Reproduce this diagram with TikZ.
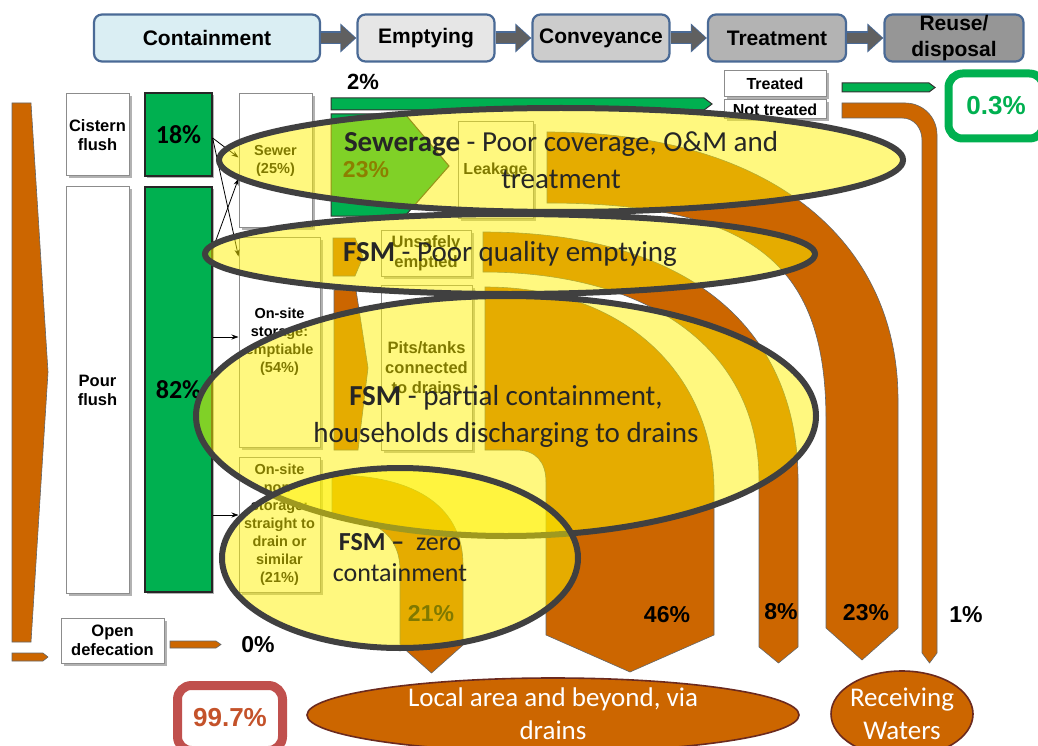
\documentclass[tikz,border=0pt]{standalone}
\usepackage{fontspec}
\setmainfont{Liberation Sans}
\newfontfamily\calfont{Carlito}
\usetikzlibrary{shapes.geometric,shadows,arrows.meta}
\definecolor{sfdorange}{HTML}{CC6600}
\definecolor{sfdgreen}{HTML}{00B050}
\definecolor{ellline}{HTML}{404040}
\definecolor{hdrline}{HTML}{4A6A96}
\definecolor{hdrarr}{HTML}{606060}
\definecolor{contfill}{HTML}{DAEEF3}
\definecolor{emptfill}{HTML}{E6E6E6}
\definecolor{convfill}{HTML}{CCCCCC}
\definecolor{treatfill}{HTML}{B3B3B3}
\definecolor{reusefill}{HTML}{969696}
\definecolor{redbox}{HTML}{C0504D}
\definecolor{redtext}{HTML}{C4522A}
\definecolor{brownline}{HTML}{6B2A1F}
\definecolor{elltext}{HTML}{262626}
\tikzset{
  hdr/.style={draw=hdrline, line width=2.2pt, rounded corners=8pt, minimum height=47pt, inner sep=0pt, align=center, font=\bfseries\fontsize{21}{26}\selectfont},
  hdrarrowbg/.style={draw=hdrline, line width=13pt, -{Triangle[length=16pt,width=28pt]}},
  hdrarrow/.style={draw=hdrarr, line width=10pt, -{Triangle[length=14pt,width=24pt]}, shorten >=1.2pt},
  wbox/.style={draw=black!45, line width=1pt, fill=white, inner sep=0pt, align=center, drop shadow={shadow xshift=2.5pt,shadow yshift=-2.5pt,opacity=0.3,fill=black}},
  gbox/.style={draw=black!85, line width=1.2pt, fill=sfdgreen, inner sep=0pt, align=center, font=\calfont\bfseries\fontsize{26}{26}\selectfont, drop shadow={shadow xshift=2pt,shadow yshift=-2pt,opacity=0.3,fill=black}},
  band/.style={fill=sfdorange, draw=black!60, line width=0.6pt},
  gflow/.style={fill=sfdgreen, draw=black!80, line width=1pt},
  yell/.style={ellipse, fill=yellow, fill opacity=0.5, text opacity=1, draw=ellline, line width=6pt, inner sep=0pt, align=center, text=elltext, font=\calfont\fontsize{29}{37}\selectfont},
  conn/.style={-{Stealth[length=7pt,width=5pt]}, line width=0.8pt, draw=black},
  pct/.style={font=\bfseries\fontsize{23}{23}\selectfont, inner sep=0pt},
  outell/.style={ellipse, fill=sfdorange, draw=brownline, line width=1.6pt, inner sep=0pt},
  outtext/.style={text=white, font=\calfont\fontsize{27}{33}\selectfont, align=center, inner sep=0pt},
  f16/.style={font=\bfseries\fontsize{16.5}{19}\selectfont},
  f14/.style={font=\bfseries\fontsize{14.5}{18}\selectfont},
  f165/.style={font=\bfseries\fontsize{16.5}{20}\selectfont}
}
\begin{document}
\begin{tikzpicture}[x=1pt,y=-1pt]
\useasboundingbox (0,0) rectangle (1038,746);
\clip (0,0) rectangle (1038,746);
\fill[white] (0,0) rectangle (1038,746);

% header
\node[hdr, fill=contfill, minimum width=226pt] (cont) at (207,38) {Containment};
\node[hdr, fill=emptfill, minimum width=137pt] (empt) at (426,38) {Emptying};
\node[hdr, fill=convfill, minimum width=137pt] (conv) at (601,38) {Conveyance};
\node[hdr, fill=treatfill, minimum width=138pt] (treat) at (777,38) {Treatment};
\node[hdr, fill=reusefill, minimum width=139pt] (reuse) at (954,38) {Reuse/\\disposal};
\foreach \a/\b in {cont/empt, empt/conv, conv/treat, treat/reuse}{
  \draw[hdrarrowbg] (\a.east) -- (\b.west);
  \draw[hdrarrow] (\a.east) -- (\b.west);
}

% left orange
\draw[band] (12,103) -- (31,103) -- (48,372) -- (31,642) -- (12,642) -- cycle;
\draw[band] (12,653) -- (43,653) -- (48,657) -- (43,661) -- (12,661) -- cycle;

% column boxes
\node[wbox, f16, minimum width=63pt, minimum height=82pt] (cist) at (97.5,135) {Cistern\\flush};
\node[wbox, f16, minimum width=63pt, minimum height=406pt] (pour) at (97.5,390) {Pour\\flush};
\node[wbox, f16, minimum width=103pt, minimum height=45pt] (od) at (112.5,640.5) {Open\\defecation};
\node[gbox, minimum width=67pt, minimum height=83pt] (g18) at (178.5,134.5) {18\%};
\node[gbox, minimum width=67pt, minimum height=405pt] (g82) at (178.5,389.5) {82\%};
\node[wbox, f14, minimum width=73pt, minimum height=133pt] (sewer) at (275.5,160.5) {Sewer\\(25\%)};
\node[wbox, f14, minimum width=81pt, minimum height=210pt] (ons1) at (279.5,342) {On-site\\storage:\\emptiable\\(54\%)};
\node[wbox, f14, minimum width=81pt, minimum height=135pt] (ons2) at (279.5,524.5) {On-site\\non-\\storage:\\straight to\\drain or\\similar\\(21\%)};
\node[wbox, font=\bfseries\fontsize{16}{19}\selectfont, minimum width=75pt, minimum height=96pt] (leak) at (495.5,170) {Leakage};
\node[wbox, f165, minimum width=90pt, minimum height=46pt] (unsafe) at (426,253) {Unsafely\\emptied};
\node[wbox, f165, minimum width=91pt, minimum height=165pt] (pits) at (426.5,367.5) {Pits/tanks\\connected\\to drains};
\node[wbox, font=\bfseries\fontsize{16}{18}\selectfont, minimum width=102pt, minimum height=26pt] (treated) at (775,83.5) {Treated};
\node[wbox, font=\bfseries\fontsize{16}{18}\selectfont, minimum width=102pt, minimum height=19pt] (nottreated) at (775,109.5) {Not treated};

% connectors
\path ([yshift=5pt]ons1.west) coordinate (ons1in);
\path ([yshift=9.5pt]ons2.west) coordinate (ons2in);
\draw[conn] ([yshift=-3.5pt]g18.east) -- ([yshift=3pt]sewer.west);
\draw[conn] ([yshift=-3.5pt]g18.east) -- ([yshift=-20pt]ons1.north west);
\draw[conn] ([yshift=-63pt]g82.north east) -- ([yshift=-18pt]sewer.west);
\draw[conn] (g82.east |- ons1in) -- (ons1in);
\draw[conn] (g82.east |- ons2in) -- (ons2in);

% open defecation flow
\draw[band] (170,641) -- (216,641) -- (221,644.5) -- (216,648) -- (170,648) -- cycle;

% emptying arrows
\draw[band] (333,238) -- (355,238) -- (363,257) -- (355,276) -- (333,276) -- cycle;
\draw[band] (334,290) -- (356,290) -- (368,368) -- (358,450) -- (334,450) -- cycle;

% big bands
\draw[band] (842,103) -- (905,103) .. controls (923,103) and (937,117) .. (937,135) -- (937,653) -- (929.5,663) -- (922,653) -- (922,140) .. controls (922,128) and (914,118) .. (902,118) -- (842,118) -- cycle;
\draw[band] (547,132) .. controls (770,132) and (898,240) .. (898,400) -- (898,628) -- (862,660) -- (826,628) -- (826,420) .. controls (826,270) and (760,203) .. (547,203) -- cycle;
\draw[band] (483,232) .. controls (690,232) and (798,330) .. (798,480) -- (798,647) -- (778.5,663) -- (759,647) -- (759,480) .. controls (759,350) and (650,272) .. (483,272) -- cycle;
\draw[band] (485,287) .. controls (630,287) and (714,380) .. (714,490) -- (714,635) -- (630,672) -- (546,635) -- (546,482) .. controls (546,462) and (536,450) .. (516,450) -- (485,450) -- cycle;
\draw[band] (332,475) .. controls (420,475) and (463,510) .. (463,565) -- (463,645) -- (431.5,673) -- (400,645) -- (400,570) .. controls (400,535) and (375,517) .. (332,517) -- cycle;

% green flows
\draw[gflow] (331,98) -- (704,98) -- (712,104) -- (704,110) -- (331,110) -- cycle;
\draw[gflow] (331,114) -- (405,114) -- (449,166) -- (405,216) -- (331,216) -- cycle;
\draw[gflow] (842,83) -- (929,83) -- (935,87.5) -- (929,92) -- (842,92) -- cycle;
\node[font=\bfseries\fontsize{23}{23}\selectfont, text=black!90!orange] (p23g) at (366,170) {23\%};
\node[pct] (l21) at (431,614) {21\%};

% highlight ellipses
\node[yell, minimum width=684pt, minimum height=104pt] (e1) at (561,160) {\textbf{Sewerage} - Poor coverage, O\&M and\\treatment};
\node[yell, minimum width=610pt, minimum height=80pt] (e2) at (510,254) {\textbf{FSM} - Poor quality emptying};
\node[yell, minimum width=620pt, minimum height=240pt] (e3) at (506,416) {\textbf{FSM} - partial containment,\\households discharging to drains};
\node[yell, minimum width=356pt, minimum height=180pt, font=\calfont\fontsize{26}{31}\selectfont] (e4) at (400,558) {\textbf{FSM –}\ \ zero\\containment};

% labels
\node[pct, font=\bfseries\fontsize{22}{22}\selectfont] (l2) at (363,82) {2\%};
\node[pct] (l46) at (667,615) {46\%};
\node[pct] (l8) at (781,612) {8\%};
\node[pct] (l23) at (866,613) {23\%};
\node[pct] (l1) at (966,615) {1\%};
\node[pct] (l0) at (258,645) {0\%};

% outcome boxes
\node[draw=sfdgreen, line width=8pt, rounded corners=14pt, fill=white, minimum width=95pt, minimum height=65pt, text=sfdgreen, font=\bfseries\fontsize{26}{26}\selectfont] (p03) at (996,106) {0.3\%};
\node[draw=redbox, line width=9pt, rounded corners=14pt, fill=white, minimum width=105pt, minimum height=65pt, text=redtext, font=\bfseries\fontsize{26}{26}\selectfont] (p997) at (230,718) {99.7\%};

% destinations
\node[outell, minimum width=492pt, minimum height=74pt] (lae) at (553,715) {};
\node[outtext] (laet) at (553,714) {Local area and beyond, via\\drains};
\node[outell, minimum width=142pt, minimum height=86pt] (rw) at (902,714) {};
\node[outtext] (rwt) at (902,714) {Receiving\\Waters};
\end{tikzpicture}
\end{document}
